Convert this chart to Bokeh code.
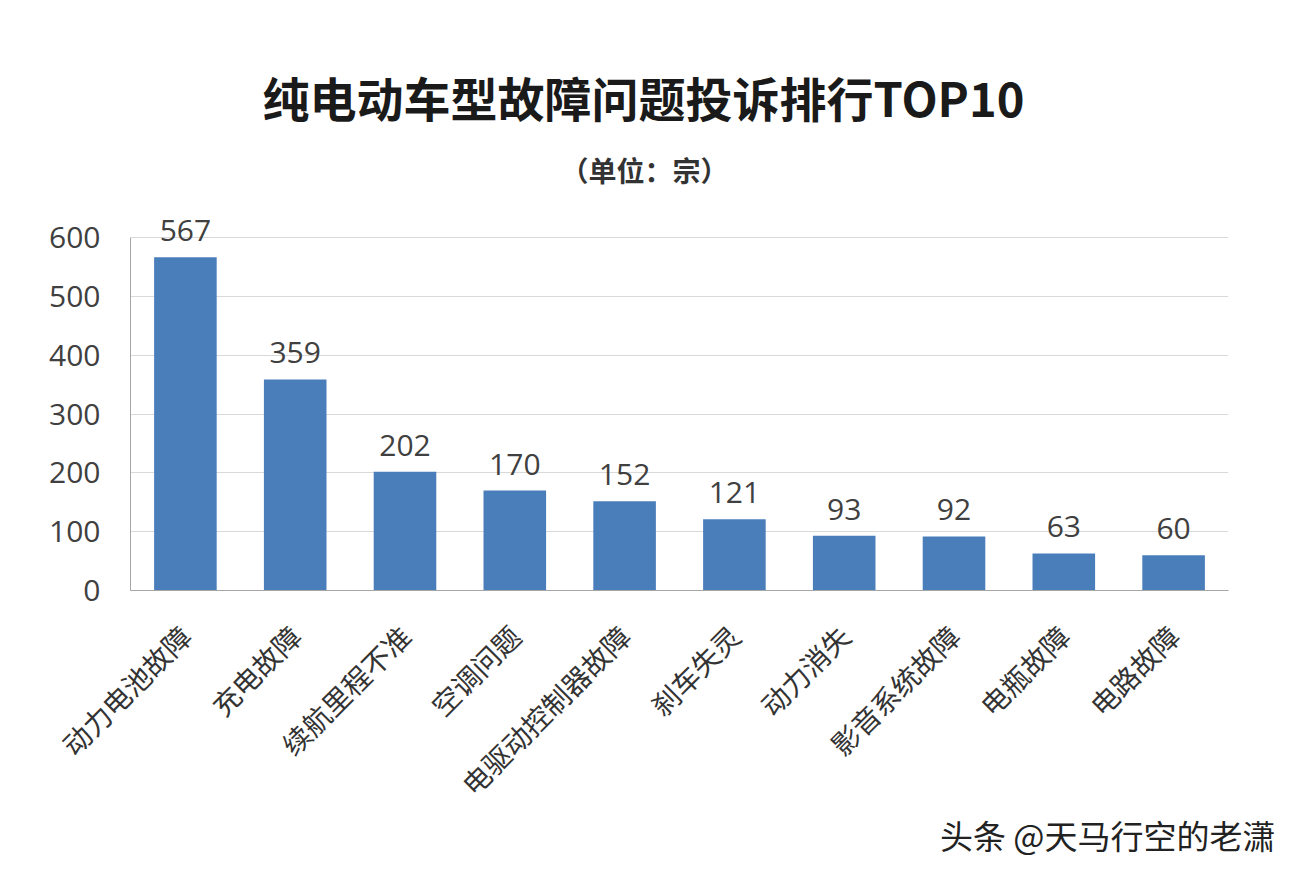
import math
from bokeh.plotting import figure
from bokeh.models import Range1d, FixedTicker, Title, ColumnDataSource
from bokeh.core.properties import value
from bokeh.embed import file_html
from bokeh.resources import INLINE

categories = ["动力电池故障", "充电故障", "续航里程不准", "空调问题", "电驱动控制器故障",
              "刹车失灵", "动力消失", "影音系统故障", "电瓶故障", "电路故障"]
counts = [567, 359, 202, 170, 152, 121, 93, 92, 63, 60]
y_ticks = [0, 100, 200, 300, 400, 500, 600]
title_text = "纯电动车型故障问题投诉排行TOP10"
subtitle_text = "（单位：宗）"
watermark_text = "头条 @天马行空的老潇"

FONT = "Noto Sans CJK SC"
NUM_FONT = "Open Sans"

src = ColumnDataSource(dict(cat=categories, val=counts, lbl=[str(v) for v in counts]))

p = figure(x_range=categories, y_range=Range1d(0, 660),
           width=1298, height=872, output_backend="svg", toolbar_location=None,
           min_border_left=130, min_border_right=70, min_border_top=202, min_border_bottom=282)
p.outline_line_color = None
p.background_fill_color = "white"
p.border_fill_color = "white"

p.vbar(x="cat", top="val", width=0.57, source=src, fill_color="#4a7ebb", line_color=None)
p.text(x="cat", y="val", text="lbl", source=src, text_align="center", text_baseline="bottom",
       y_offset=-16, text_font=value(NUM_FONT), text_font_size="30px", text_color="#404040")

# y axis
p.yaxis.ticker = FixedTicker(ticks=y_ticks)
p.yaxis.bounds = (0, 600)
p.yaxis.axis_line_color = "#a6a6a6"
p.yaxis.major_tick_line_color = None
p.yaxis.minor_tick_line_color = None
p.yaxis.major_label_text_font = NUM_FONT
p.yaxis.major_label_text_font_size = "30px"
p.yaxis.major_label_text_color = "#404040"
p.yaxis.major_label_standoff = 24

# x axis
p.xaxis.axis_line_color = "#a6a6a6"
p.xaxis.major_tick_line_color = None
p.xaxis.minor_tick_line_color = None
p.xaxis.major_label_orientation = math.pi / 4
p.xaxis.major_label_text_font = FONT
p.xaxis.major_label_text_font_size = "28px"
p.xaxis.major_label_text_color = "#333333"
p.xaxis.major_label_standoff = 34

p.xgrid.grid_line_color = None
p.ygrid.grid_line_color = "#d9d9d9"
p.ygrid.grid_line_width = 1

p.add_layout(Title(text=subtitle_text, align="left", offset=430, standoff=26,
                   text_font=FONT, text_font_size="28px", text_font_style="bold",
                   text_color="#333333"), "above")
p.add_layout(Title(text=title_text, align="left", offset=132, standoff=8,
                   text_font=FONT, text_font_size="47px", text_font_style="bold",
                   text_color="#1a1a1a"), "above")
p.add_layout(Title(text=watermark_text, align="right", offset=-47, standoff=-24,
                   text_font=FONT, text_font_size="33px", text_font_style="normal",
                   text_color="#222222"), "below")

open("out.html", "w").write(file_html(p, INLINE))
